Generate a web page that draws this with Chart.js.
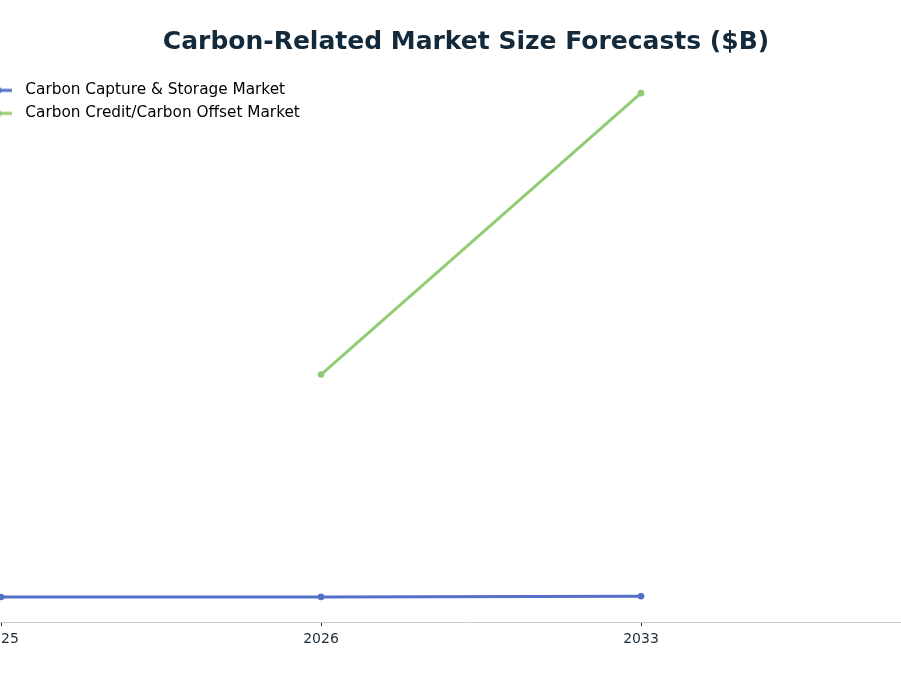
<!DOCTYPE html>
<html>
<head>
<meta charset="utf-8">
<title>Carbon-Related Market Size Forecasts</title>
<script src="https://cdn.jsdelivr.net/npm/chart.js@4.4.1/dist/chart.umd.min.js"></script>
<style>
  html, body { margin: 0; padding: 0; background: #fff; overflow: hidden; }
  #wrap { position: absolute; left: -40px; top: 0; width: 1010px; height: 676px; }
</style>
</head>
<body>
<div id="wrap"><canvas id="chart"></canvas></div>
<script>
const years = ["2025", "2026", "2033"];
const ccsValues = [3.9, 4.2, 6.0];
const creditValues = [null, 669, 1510];
const seriesNames = ["Carbon Capture & Storage Market", "Carbon Credit/Carbon Offset Market"];
const seriesColors = ["#5470c6", "#91cc75"];

const allValues = ccsValues.concat(creditValues).filter((v) => v !== null);
const lo = Math.min(...allValues);
const hi = Math.max(...allValues);
const range = hi - lo;

// legend marker: short line with a dot in the middle (gets cut at the page edge)
function makeMarker(color) {
  const c = document.createElement("canvas");
  c.width = 28;
  c.height = 8;
  const ctx = c.getContext("2d");
  ctx.strokeStyle = color;
  ctx.lineWidth = 3;
  ctx.beginPath();
  ctx.moveTo(0, 4);
  ctx.lineTo(28, 4);
  ctx.stroke();
  ctx.fillStyle = color;
  ctx.beginPath();
  ctx.arc(14, 4, 3.3, 0, Math.PI * 2);
  ctx.fill();
  return c;
}
const markers = seriesColors.map(makeMarker);

function toPoints(values) {
  return values.map((v, i) => ({ x: i, y: v }));
}

// the chartArea legend gets its top reset to 0, put it back inside the plot
const legendInside = {
  id: "legendInside",
  afterLayout(ch) {
    if (ch.legend) {
      const h = ch.legend.height;
      ch.legend.top = ch.chartArea.top + 2;
      ch.legend.bottom = ch.legend.top + h;
    }
  },
};

const chart = new Chart(document.getElementById("chart"), {
  type: "line",
  data: {
    datasets: [
      {
        label: seriesNames[0],
        data: toPoints(ccsValues),
        borderColor: seriesColors[0],
        backgroundColor: seriesColors[0],
        borderWidth: 3,
        pointRadius: 3.3,
        pointBorderWidth: 0,
        tension: 0,
      },
      {
        label: seriesNames[1],
        data: toPoints(creditValues),
        borderColor: seriesColors[1],
        backgroundColor: seriesColors[1],
        borderWidth: 3,
        pointRadius: 3.3,
        pointBorderWidth: 0,
        tension: 0,
      },
    ],
  },
  options: {
    responsive: true,
    maintainAspectRatio: false,
    devicePixelRatio: 1,
    animation: false,
    layout: {
      padding: { top: 0, left: 11, right: 9, bottom: 23 },
    },
    plugins: {
      title: {
        display: true,
        text: "Carbon-Related Market Size Forecasts ($B)",
        color: "#14293a",
        font: { family: "DejaVu Sans", size: 25, weight: "bold" },
        padding: { top: 27, bottom: 16 },
      },
      legend: {
        position: "chartArea",
        align: "start",
        labels: {
          usePointStyle: true,
          pointStyleWidth: 39,
          padding: 7.7,
          color: "#000",
          font: { family: "DejaVu Sans", size: 15.3 },
          generateLabels: (ch) => {
            const items = Chart.defaults.plugins.legend.labels.generateLabels(ch);
            items.forEach((item) => {
              item.pointStyle = markers[item.datasetIndex];
            });
            return items;
          },
        },
      },
      tooltip: { enabled: false },
    },
    scales: {
      x: {
        type: "linear",
        min: -30 / 320,
        max: 3,
        afterBuildTicks: (scale) => {
          scale.ticks = years.map((y, i) => ({ value: i }));
        },
        ticks: {
          color: "#1f2d3a",
          padding: 5,
          font: { family: "DejaVu Sans", size: 14 },
          callback: (value) => years[value],
        },
        grid: {
          drawOnChartArea: false,
          drawTicks: true,
          tickLength: 4,
          color: "#1f2d3a",
        },
        border: { color: "#cccccc", width: 1 },
      },
      y: {
        display: false,
        min: lo - range * 0.05,
        max: hi + range * 0.04,
      },
    },
  },
  plugins: [legendInside],
});
</script>
</body>
</html>
